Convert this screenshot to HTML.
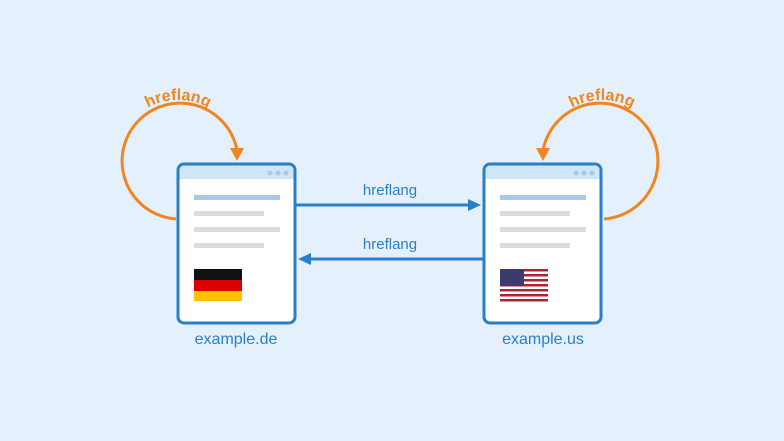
<!DOCTYPE html><html><head><style>body{margin:0;background:#e4f1fc;}svg{display:block}</style></head><body>
<svg width="784" height="441" viewBox="0 0 784 441" xmlns="http://www.w3.org/2000/svg" font-family="Liberation Sans, sans-serif">
<defs>
<path id="arcL" d="M114 164 A64 64 0 0 1 242 164"/>
<path id="arcR" d="M538 164 A64 64 0 0 1 666 164"/>
</defs>
<rect width="784" height="441" fill="#e4f1fc"/>
<!-- loops -->
<path d="M176 219 A58 58 0 1 1 237 150" fill="none" stroke="#f0861f" stroke-width="3"/>
<polygon points="230,148 244,148 237,161" fill="#f0861f"/>
<path d="M604 219 A58 58 0 1 0 543 150" fill="none" stroke="#f0861f" stroke-width="3"/>
<polygon points="536,148 550,148 543,161" fill="#f0861f"/>
<text font-size="16" font-weight="bold" fill="#f0861f" text-anchor="middle"><textPath href="#arcL" startOffset="50%">hreflang</textPath></text>
<text font-size="16" font-weight="bold" fill="#f0861f" text-anchor="middle"><textPath href="#arcR" startOffset="50%">hreflang</textPath></text>
<!-- arrows -->
<line x1="296" y1="205" x2="470" y2="205" stroke="#2a7fc9" stroke-width="3"/>
<polygon points="481,205 468,199 468,211" fill="#2a7fc9"/>
<line x1="484" y1="259" x2="310" y2="259" stroke="#2a7fc9" stroke-width="3"/>
<polygon points="298,259 311,253 311,265" fill="#2a7fc9"/>
<text x="390" y="195" font-size="15" fill="#2a7fc9" text-anchor="middle">hreflang</text>
<text x="390" y="249" font-size="15" fill="#2a7fc9" text-anchor="middle">hreflang</text>
<!-- pages -->
<g>
<rect x="178" y="164" width="117" height="159" rx="6" fill="#fff" stroke="#2a7fc9" stroke-width="3"/>
<path d="M179.5 179 V170 a4.5 4.5 0 0 1 4.5 -4.5 H289 a4.5 4.5 0 0 1 4.5 4.5 V179 Z" fill="#cfe5f8"/>
<circle cx="270" cy="173" r="2.5" fill="#a9c8e4"/><circle cx="278" cy="173" r="2.5" fill="#a9c8e4"/><circle cx="286" cy="173" r="2.5" fill="#a9c8e4"/>
<rect x="194" y="195" width="86" height="5" fill="#a9c8e8"/>
<rect x="194" y="211" width="70" height="5" fill="#dcdcdc"/>
<rect x="194" y="227" width="86" height="5" fill="#dcdcdc"/>
<rect x="194" y="243" width="70" height="5" fill="#dcdcdc"/>
<rect x="194" y="269" width="48" height="11" fill="#111"/>
<rect x="194" y="280" width="48" height="11" fill="#dd0000"/>
<rect x="194" y="291" width="48" height="10" fill="#ffc200"/>
</g>
<g>
<rect x="484" y="164" width="117" height="159" rx="6" fill="#fff" stroke="#2a7fc9" stroke-width="3"/>
<path d="M485.5 179 V170 a4.5 4.5 0 0 1 4.5 -4.5 H595 a4.5 4.5 0 0 1 4.5 4.5 V179 Z" fill="#cfe5f8"/>
<circle cx="576" cy="173" r="2.5" fill="#a9c8e4"/><circle cx="584" cy="173" r="2.5" fill="#a9c8e4"/><circle cx="592" cy="173" r="2.5" fill="#a9c8e4"/>
<rect x="500" y="195" width="86" height="5" fill="#a9c8e8"/>
<rect x="500" y="211" width="70" height="5" fill="#dcdcdc"/>
<rect x="500" y="227" width="86" height="5" fill="#dcdcdc"/>
<rect x="500" y="243" width="70" height="5" fill="#dcdcdc"/>
<rect x="500" y="269" width="48" height="32" fill="#fff"/>
<g fill="#b22234">
<rect x="500" y="269" width="48" height="2.5"/><rect x="500" y="274" width="48" height="2.5"/><rect x="500" y="279" width="48" height="2.5"/><rect x="500" y="284" width="48" height="2.5"/><rect x="500" y="289" width="48" height="2.5"/><rect x="500" y="294" width="48" height="2.5"/><rect x="500" y="299" width="48" height="2.5"/>
</g>
<rect x="500" y="269" width="24" height="17" fill="#3c3b6e"/>
</g>
<text x="236" y="344" font-size="16" fill="#2a7fc9" text-anchor="middle">example.de</text>
<text x="543" y="344" font-size="16" fill="#2a7fc9" text-anchor="middle">example.us</text>
</svg>
</body></html>
